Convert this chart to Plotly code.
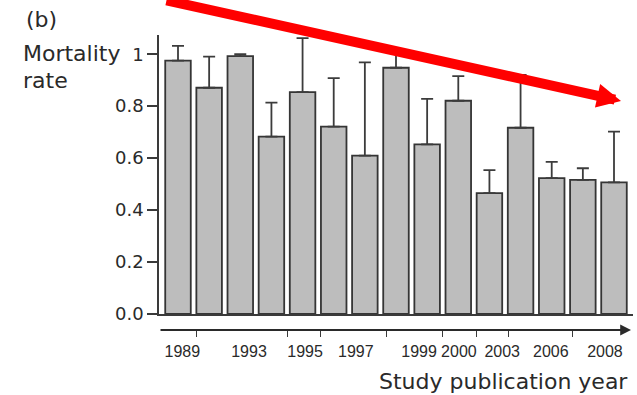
import plotly.graph_objects as go

# ---- data ----
study_index = list(range(15))
mortality = [0.975, 0.871, 0.993, 0.683, 0.854, 0.721, 0.610, 0.948,
             0.653, 0.821, 0.465, 0.717, 0.523, 0.516, 0.507]
upper = [1.032, 0.991, 1.000, 0.814, 1.062, 0.908, 0.969, 1.017,
         0.828, 0.916, 0.554, 0.920, 0.586, 0.561, 0.702]
err_plus = [u - m for u, m in zip(upper, mortality)]

year_labels = ["1989", "1993", "1995", "1997", "1999", "2000", "2003", "2006", "2008"]
year_label_at = [0.14, 2.28, 4.08, 5.71, 7.74, 9.02, 10.41, 11.97, 13.71]
year_tick_at = [0.60, 3.53, 4.58, 6.68, 8.50, 9.57, 10.60, 12.68]

y_ticks = [0, 0.2, 0.4, 0.6, 0.8, 1]
y_ticktext = ["0.0", "0.2", "0.4", "0.6", "0.8", "1"]

XR = [-0.61, 14.61]
AX = "#3a3a3a"
TXT = "#2a2a2a"

fig = go.Figure()
fig.add_trace(go.Bar(
    x=study_index, y=mortality, width=0.82,
    marker=dict(color="#bdbdbd", line=dict(color="#353535", width=1.8)),
    error_y=dict(type="data", symmetric=False, array=err_plus,
                 arrayminus=[0] * len(mortality),
                 color="#3c3c3c", thickness=1.8, width=6),
    showlegend=False,
))
# invisible traces to activate overlay axes
fig.add_trace(go.Scatter(x=[None], y=[None], xaxis="x2", yaxis="y", showlegend=False))
fig.add_trace(go.Scatter(x=[None], y=[None], xaxis="x3", yaxis="y", showlegend=False))

fig.update_layout(
    width=637, height=395,
    margin=dict(l=159, r=4, t=35, b=65),
    plot_bgcolor="white", paper_bgcolor="white",
    bargap=0.18,
    xaxis=dict(range=XR, showline=True, linecolor=AX, linewidth=2,
               showticklabels=False, ticks="", showgrid=False, zeroline=False,
               anchor="y"),
    xaxis2=dict(range=XR, overlaying="x", anchor="free", position=0,
                showline=False, showgrid=False, zeroline=False,
                tickmode="array", tickvals=year_tick_at, ticktext=[""] * len(year_tick_at),
                ticks="outside", ticklen=6, tickwidth=1.3, tickcolor=AX),
    xaxis3=dict(range=XR, overlaying="x", anchor="free", position=0,
                showline=False, showgrid=False, zeroline=False,
                tickmode="array", tickvals=year_label_at, ticktext=year_labels,
                ticks="outside", ticklen=7, tickcolor="rgba(0,0,0,0)",
                tickfont=dict(family="Liberation Sans", size=16, color=TXT)),
    yaxis=dict(range=[0, 1.074], domain=[0.0542, 1],
               showline=True, linecolor=AX, linewidth=1.5,
               tickmode="array", tickvals=y_ticks, ticktext=y_ticktext,
               ticks="outside", ticklen=10, tickwidth=1.5, tickcolor=AX,
               tickfont=dict(family="DejaVu Sans", size=18, color=TXT),
               showgrid=False, zeroline=False),
)

W = 637 - 159 - 4
H = 395 - 35 - 65
def px(xp):
    return (xp - 159) / W
def py(yp):
    return (330 - yp) / H

annos = [
    dict(text="(b)", x=px(24), y=py(20), xanchor="left", yanchor="middle",
         font=dict(family="DejaVu Sans", size=22, color=TXT)),
    dict(text="Mortality", x=px(21), y=py(53), xanchor="left", yanchor="middle",
         font=dict(family="DejaVu Sans", size=22, color=TXT)),
    dict(text="rate", x=px(21), y=py(80), xanchor="left", yanchor="middle",
         font=dict(family="DejaVu Sans", size=22, color=TXT)),
    dict(text="Study publication year", x=px(630), y=py(381), xanchor="right",
         yanchor="middle", font=dict(family="DejaVu Sans", size=22, color=TXT)),
    # axis arrow
    dict(text="", x=px(631), y=py(330), ax=159 - 631, ay=0, showarrow=True,
         arrowhead=2, arrowwidth=1.8, arrowsize=1.2, arrowcolor="#2a2a2a"),
    # red trend arrow
    dict(text="", x=px(621), y=py(101), ax=165 - 621, ay=-10 - 101, showarrow=True,
         arrowhead=2, arrowwidth=10, arrowsize=0.48, arrowcolor="#ff0000"),
]
for a in annos:
    a.setdefault("showarrow", False)
    a["xref"] = "paper"
    a["yref"] = "paper"
    fig.add_annotation(**a)

fig.write_html("out.html", config={"displayModeBar": False},
               post_script="document.body.style.margin='0px';")
